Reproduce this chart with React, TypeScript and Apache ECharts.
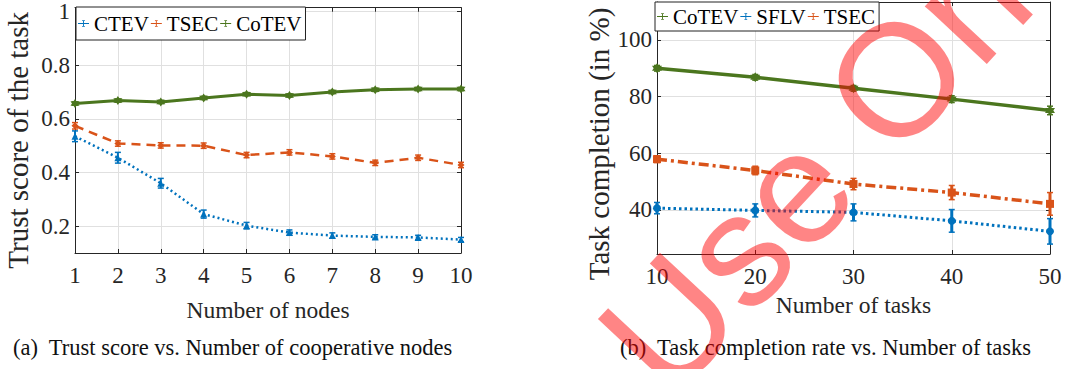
import React, { useEffect, useRef } from "react";
import * as echarts from "echarts";

// ---- data (a): trust score vs number of nodes ----
const nodes = [1, 2, 3, 4, 5, 6, 7, 8, 9, 10];
const ctevA = [0.535, 0.455, 0.36, 0.245, 0.202, 0.176, 0.165, 0.16, 0.158, 0.15];
const ctevAErr = [0.02, 0.02, 0.018, 0.015, 0.012, 0.01, 0.01, 0.008, 0.008, 0.008];
const tsecA = [0.574, 0.508, 0.501, 0.5, 0.465, 0.475, 0.46, 0.436, 0.455, 0.428];
const tsecAErr = [0.012, 0.01, 0.01, 0.01, 0.01, 0.01, 0.01, 0.01, 0.01, 0.01];
const cotevA = [0.657, 0.668, 0.663, 0.678, 0.692, 0.687, 0.7, 0.708, 0.711, 0.711];
const cotevAErr = [0.006, 0.006, 0.006, 0.006, 0.006, 0.006, 0.006, 0.006, 0.006, 0.006];
const yTicksA = [0.2, 0.4, 0.6, 0.8, 1];

// ---- data (b): task completion vs number of tasks ----
const tasks = [10, 20, 30, 40, 50];
const cotevB = [90, 86.8, 82.9, 79.1, 75.1];
const cotevBErr = [1, 1, 1, 1.2, 1.5];
const sflvB = [40.6, 39.8, 39.1, 36.1, 32.4];
const sflvBErr = [2, 2.3, 3, 4, 4.5];
const tsecB = [57.9, 53.9, 49.1, 46.1, 42.1];
const tsecBErr = [1.2, 1.5, 2, 2.5, 4];
const yTicksB = [40, 60, 80, 100];

const BLUE = "#0072BD";
const ORANGE = "#D95319";
const GREEN = "#4B761E";
const SERIF = "Liberation Serif";
const HEX = "path://M0,-10L2.9,-5L8.66,-5L5.8,0L8.66,5L2.9,5L0,10L-2.9,5L-8.66,5L-5.8,0L-8.66,-5L-2.9,-5Z";
const LEGEND_ICON = "path://M0,9H24V11H0Z M11,3H13V17H11Z M9,3H15V4.5H9Z M9,15.5H15V17H9Z";

const pairs = (xs: number[], ys: number[]) => xs.map((x, i) => [x, ys[i]]);
const errData = (xs: number[], ys: number[], es: number[]) =>
  xs.map((x, i) => [x, ys[i] - es[i], ys[i] + es[i]]);

function errSeries(xi: number, data: number[][], color: string, lw: number) {
  return {
    type: "custom",
    xAxisIndex: xi,
    yAxisIndex: xi,
    data,
    encode: { x: 0, y: [1, 2] },
    z: 3,
    silent: true,
    renderItem: (params: any, api: any) => {
      const x = api.value(0);
      const p1 = api.coord([x, api.value(1)]);
      const p2 = api.coord([x, api.value(2)]);
      const cw = 3;
      return {
        type: "group",
        children: [
          { type: "line", shape: { x1: p1[0], y1: p1[1], x2: p2[0], y2: p2[1] }, style: { stroke: color, lineWidth: lw } },
          { type: "line", shape: { x1: p1[0] - cw, y1: p1[1], x2: p1[0] + cw, y2: p1[1] }, style: { stroke: color, lineWidth: 1.5 } },
          { type: "line", shape: { x1: p2[0] - cw, y1: p2[1], x2: p2[0] + cw, y2: p2[1] }, style: { stroke: color, lineWidth: 1.5 } },
        ],
      };
    },
  };
}

function lineSeries(name: string, xi: number, data: number[][], color: string, type: any, lw: number, symbol: string, size: number) {
  return {
    name,
    type: "line",
    xAxisIndex: xi,
    yAxisIndex: xi,
    data,
    z: 4,
    symbol,
    symbolSize: size,
    showSymbol: true,
    itemStyle: { color },
    lineStyle: { color, width: lw, type },
  };
}

const axisColor = "#262626";
const gridColor = "#e0e0e0";

function mainX(gi: number, min: number, max: number, interval: number, name: string, nameGap: number) {
  return {
    type: "value",
    gridIndex: gi,
    min,
    max,
    interval,
    name,
    nameLocation: "middle",
    nameGap,
    nameTextStyle: { fontFamily: SERIF, fontSize: 23.5, color: axisColor },
    axisLine: { show: true, lineStyle: { color: axisColor, width: 1 } },
    axisTick: { show: true, inside: true, length: 4, lineStyle: { color: axisColor } },
    axisLabel: { fontFamily: SERIF, fontSize: 23, color: axisColor, margin: 11 },
    splitLine: { show: true, lineStyle: { color: gridColor, width: 1 } },
  };
}
function topX(gi: number, min: number, max: number, interval: number) {
  return {
    type: "value",
    gridIndex: gi,
    position: "top",
    min,
    max,
    interval,
    axisLine: { show: true, lineStyle: { color: axisColor, width: 1 } },
    axisTick: { show: true, inside: true, length: 4, lineStyle: { color: axisColor } },
    axisLabel: { show: false },
    splitLine: { show: false },
  };
}
function mainY(gi: number, min: number, max: number, ticks: number[], name: string, nameGap: number, shift: number) {
  return {
    type: "value",
    gridIndex: gi,
    min,
    max,
    name,
    nameLocation: "middle",
    nameGap,
    nameTextStyle: { fontFamily: SERIF, fontSize: 29, color: axisColor, padding: [0, shift, 0, 0] },
    axisLine: { show: true, lineStyle: { color: axisColor, width: 1 } },
    axisTick: { show: true, inside: true, length: 4, customValues: ticks, lineStyle: { color: axisColor } },
    axisLabel: { fontFamily: SERIF, fontSize: 23, color: axisColor, margin: 5, customValues: ticks },
    splitLine: { show: true, lineStyle: { color: gridColor, width: 1 } },
  };
}
function rightY(gi: number, min: number, max: number, ticks: number[]) {
  return {
    type: "value",
    gridIndex: gi,
    position: "right",
    min,
    max,
    axisLine: { show: true, lineStyle: { color: axisColor, width: 1 } },
    axisTick: { show: true, inside: true, length: 4, customValues: ticks, lineStyle: { color: axisColor } },
    axisLabel: { show: false, customValues: ticks },
    splitLine: { show: false },
  };
}

export default function App() {
  const ref = useRef<HTMLDivElement>(null);
  useEffect(() => {
    if (!ref.current) return;
    const chart = echarts.init(ref.current, null, { renderer: "svg" });
    const legendText = { fontFamily: SERIF, fontSize: 21, color: "#000" };
    const legendBase = {
      orient: "horizontal",
      itemGap: 2,
      itemWidth: 11,
      itemHeight: 13,
      backgroundColor: "#fff",
      borderColor: "#222",
      borderWidth: 1,
      borderRadius: 0,
      textStyle: legendText,
    };
    chart.setOption({
      animation: false,
      backgroundColor: "#fff",
      textStyle: { fontFamily: SERIF },
      grid: [
        { left: 75, top: 5, width: 386, height: 248 },
        { left: 657, top: 2, width: 393, height: 252 },
      ],
      xAxis: [
        mainX(0, 1, 10, 1, "Number of nodes", 45),
        mainX(1, 10, 50, 10, "Number of tasks", 39),
        topX(0, 1, 10, 1),
        topX(1, 10, 50, 10),
      ],
      yAxis: [
        mainY(0, 0.1, 1.014, yTicksA, "Trust score of the task", 43, 20),
        mainY(1, 24.4, 113.4, yTicksB, "Task completion (in %)", 37, 32),
        rightY(0, 0.1, 1.014, yTicksA),
        rightY(1, 24.4, 113.4, yTicksB),
      ],
      legend: [
        {
          ...legendBase,
          left: 76,
          top: 7,
          padding: [6, 4, 6, 2],
          data: [
            { name: "CTEV", icon: LEGEND_ICON, itemStyle: { color: BLUE } },
            { name: "TSEC", icon: LEGEND_ICON, itemStyle: { color: ORANGE } },
            { name: "CoTEV", icon: LEGEND_ICON, itemStyle: { color: GREEN } },
          ],
        },
        {
          ...legendBase,
          left: 655,
          top: 2,
          padding: [4, 4, 4, 2],
          data: [
            { name: "CoTEV", icon: LEGEND_ICON, itemStyle: { color: GREEN } },
            { name: "SFLV", icon: LEGEND_ICON, itemStyle: { color: BLUE } },
            { name: "TSEC", icon: LEGEND_ICON, itemStyle: { color: ORANGE } },
          ],
        },
      ],
      graphic: [
        {
          type: "text",
          left: 13,
          top: 336,
          style: { text: "(a)  Trust score vs. Number of cooperative nodes", font: `22.5px ${SERIF}`, fill: "#111" },
        },
        {
          type: "text",
          left: 620,
          top: 336,
          style: { text: "(b)  Task completion rate vs. Number of tasks", font: `22.5px ${SERIF}`, fill: "#111" },
        },
        {
          type: "text",
          x: 688,
          y: 420,
          rotation: (47 * Math.PI) / 180,
          z: 100,
          silent: true,
          style: {
            text: "Use Only",
            font: "160px Liberation Sans",
            fill: "rgba(255,0,0,0.48)",
            textAlign: "left",
            textVerticalAlign: "bottom",
          },
        },
      ],
      series: [
        lineSeries("CTEV", 0, pairs(nodes, ctevA), BLUE, [2, 3], 2.5, "triangle", 7),
        lineSeries("TSEC", 0, pairs(nodes, tsecA), ORANGE, [9, 6], 2.5, "diamond", 7),
        lineSeries("CoTEV", 0, pairs(nodes, cotevA), GREEN, "solid", 3, HEX, 9),
        errSeries(0, errData(nodes, ctevA, ctevAErr), BLUE, 2),
        errSeries(0, errData(nodes, tsecA, tsecAErr), ORANGE, 2),
        errSeries(0, errData(nodes, cotevA, cotevAErr), GREEN, 2),
        lineSeries("CoTEV", 1, pairs(tasks, cotevB), GREEN, "solid", 3.5, HEX, 10),
        lineSeries("SFLV", 1, pairs(tasks, sflvB), BLUE, [2.5, 3], 3, "circle", 8),
        lineSeries("TSEC", 1, pairs(tasks, tsecB), ORANGE, [10, 4, 3, 4], 3.5, "rect", 8),
        errSeries(1, errData(tasks, cotevB, cotevBErr), GREEN, 3),
        errSeries(1, errData(tasks, sflvB, sflvBErr), BLUE, 3),
        errSeries(1, errData(tasks, tsecB, tsecBErr), ORANGE, 3),
      ],
    });
    return () => chart.dispose();
  }, []);
  return <div ref={ref} style={{ position: "fixed", left: 0, top: 0, width: 1081, height: 369 }} />;
}
